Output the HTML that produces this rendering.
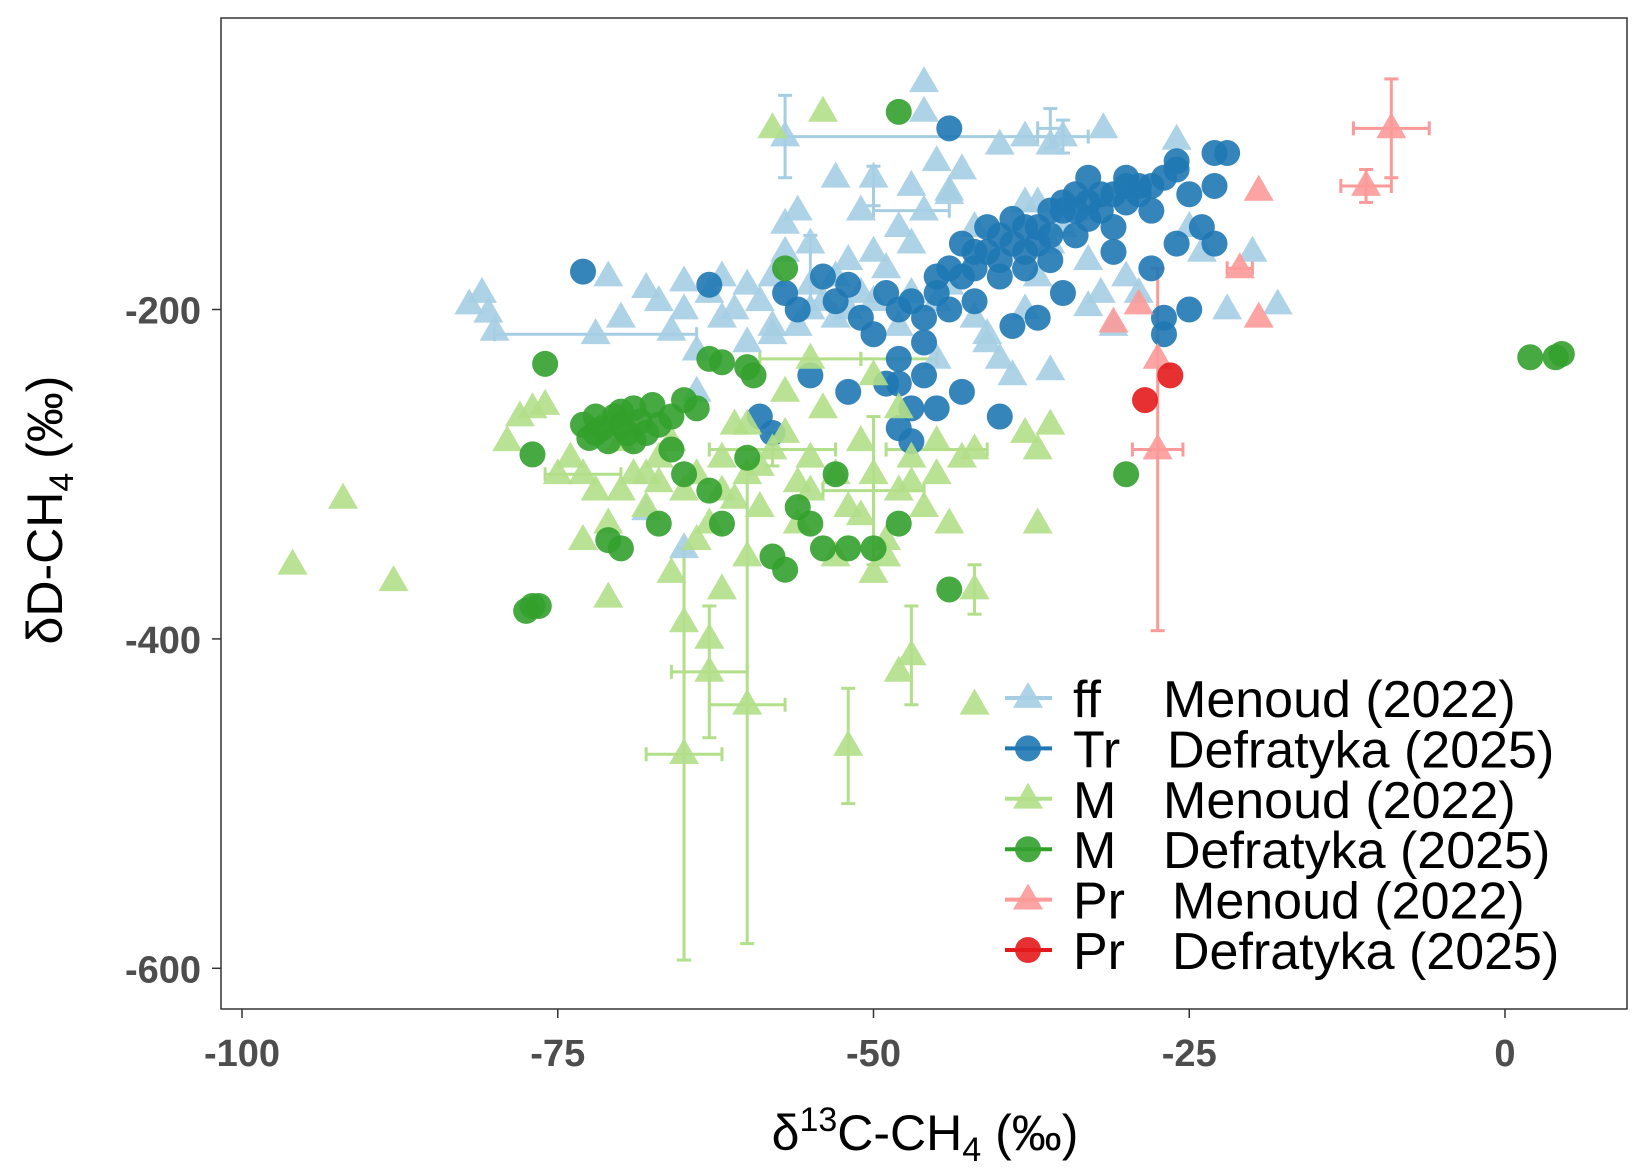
<!DOCTYPE html>
<html><head><meta charset="utf-8"><style>
html,body{margin:0;padding:0;background:#fff;}
svg{display:block;font-family:"Liberation Sans",Arial,sans-serif;}
</style></head><body>
<svg id="chart" width="1637" height="1175" viewBox="0 0 1637 1175">
<rect x="0" y="0" width="1637" height="1175" fill="#fff"/>
<g id="errs"></g>
<g id="marks"></g>
<rect x="221" y="18" width="1406" height="991" fill="none" stroke="#333" stroke-width="1.5"/>
<g id="axes"></g>
<text x="925" y="1150" text-anchor="middle" font-size="50" fill="#000">δ<tspan font-size="34" dy="-19">13</tspan><tspan dy="19">C-CH</tspan><tspan font-size="34" dy="11">4</tspan><tspan dy="-11"> (‰)</tspan></text>
<text transform="translate(62,510) rotate(-90)" text-anchor="middle" font-size="50" fill="#000">δD-CH<tspan font-size="34" dy="11">4</tspan><tspan dy="-11"> (‰)</tspan></text>
<g id="legend"></g>
</svg>
<script>
const xTicks=[-100,-75,-50,-25,0];
const yTicks=[-200,-400,-600];
const ffX=[-82,-81,-80.5,-80,-72,-71,-68,-66,-65,-65,-64,-63,-62,-61,-60,-59,-58,-58,-57,-57,-56,-57,-55,-54,-53,-52,-51,-50,-49,-48,-47,-46,-46,-46,-45,-44,-43,-47,-50,-51,-53,-55,-52,-48,-45,-42,-41,-40,-39,-38,-37,-36,-35,-34,-33,-32,-31,-30,-36,-35,-38,-40,-44,-42,-38,-31.8,-26,-25,-24,-22,-20,-18,-36,-33,-55,-60,-64,-68,-65,-37,-70,-67,-58,-45,-41,-29,-62,-56,-53,-50,-47,-44];
const ffY=[-197,-190,-202,-213,-215,-180,-187,-213,-183,-200,-225,-190,-180,-200,-185,-195,-180,-210,-165,-148,-140,-95,-185,-195,-180,-170,-190,-165,-175,-150,-160,-140,-62,-80,-110,-128,-115,-125,-120,-140,-120,-160,-200,-210,-195,-205,-220,-230,-240,-200,-180,-160,-150,-140,-170,-190,-210,-180,-100,-95,-95,-100,-130,-150,-135,-90,-97,-150,-165,-200,-165,-197,-237,-198,-200,-220,-250,-322,-345,-135,-205,-195,-215,-230,-215,-190,-205,-210,-205,-195,-190,-185];
const trX=[-73,-63,-57,-56,-55,-54,-53,-52,-51,-50,-49,-48,-47,-46,-45,-44,-43,-42,-41,-40,-40,-39,-38,-37,-36,-35,-34,-33,-32,-31,-30,-29,-28,-27,-26,-25,-24,-23,-22,-23,-23,-26,-28,-31,-34,-36,-38,-42,-44,-46,-48,-49,-47,-48,-47,-45,-43,-40,-59,-58,-25,-27,-27,-37,-35,-39,-44,-48,-46,-52,-33,-30,-26,-41,-39,-37,-35,-33,-31,-29,-43,-45,-38,-36,-32,-34,-30,-28,-42,-40];
const trY=[-177,-185,-190,-200,-240,-180,-195,-185,-205,-215,-190,-200,-195,-205,-180,-175,-160,-165,-150,-155,-180,-145,-150,-160,-140,-135,-130,-145,-140,-150,-135,-130,-140,-120,-115,-130,-150,-105,-105,-125,-160,-160,-175,-165,-155,-170,-175,-195,-200,-220,-230,-245,-260,-272,-280,-260,-250,-265,-265,-275,-200,-205,-215,-205,-190,-210,-90,-245,-240,-250,-120,-125,-110,-165,-160,-150,-140,-135,-130,-125,-180,-190,-165,-155,-130,-140,-120,-125,-175,-170];
const mmX=[-96,-92,-88,-79,-78,-77,-76,-74,-73,-72,-71,-70,-69,-68,-67,-66,-65,-64,-63,-62,-61,-60,-59,-58,-57,-56,-55,-54,-53,-52,-51,-50,-49,-48,-47,-46,-45,-44,-43,-42,-37,-38,-36,-37,-65,-63,-65,-63,-60,-52,-48,-47,-42,-42,-54,-58,-71,-75,-62,-60,-55,-50,-48,-73,-66,-50,-49,-57,-60,-70,-64,-56,-53,-67,-61,-59,-55,-51,-47,-45,-68,-62];
const mmY=[-355,-315,-365,-280,-265,-260,-258,-290,-300,-310,-330,-280,-300,-320,-290,-280,-310,-300,-330,-290,-270,-300,-320,-285,-275,-305,-290,-260,-300,-320,-280,-300,-340,-310,-290,-320,-300,-330,-290,-285,-285,-275,-270,-330,-390,-400,-470,-420,-440,-465,-420,-410,-370,-440,-80,-90,-375,-300,-370,-350,-230,-240,-260,-340,-360,-360,-350,-250,-270,-310,-340,-330,-350,-305,-315,-295,-310,-325,-305,-280,-300,-310];
const mdX=[-77.5,-77,-76.5,-77,-76,-73,-72,-71,-70.5,-70,-69,-68,-67,-66,-65,-64,-63,-62,-60,-59.5,-57,-48,-30,2,4,4.5,-44,-70,-71,-58,-57,-62,-63,-60,-55,-54,-52,-50,-48,-65,-67,-53,-56,-66,-72,-69,-71.5,-70,-68.5,-67.5,-69.5,-72.5];
const mdY=[-383,-380,-380,-288,-233,-270,-275,-280,-265,-270,-260,-275,-270,-265,-255,-260,-230,-232,-235,-240,-175,-80,-300,-229,-229,-227,-370,-345,-340,-350,-358,-330,-310,-290,-330,-345,-345,-345,-330,-300,-330,-300,-320,-285,-265,-280,-272,-262,-268,-258,-275,-278];
const prX=[-9,-11,-19.5,-21,-19.5,-31,-29,-27.5,-27.5];
const prY=[-90,-125,-128,-175,-205,-208,-197,-230,-285];
const pdX=[-28.5,-26.5];
const pdY=[-255,-240];
// error bars: x, y, x-error, y-error
const ffEX=[-57,-46,-72,-35,-36,-50,-47,-55];
const ffEY=[-95,-95,-215,-95,-90,-125,-140,-175];
const ffEx=[0,11,8,2,1,0,3,0];
const ffEy=[25,0,0,10,12,12,0,20];
const mmEX=[-65,-63,-60,-52,-47,-42,-73,-58,-50,-55,-48,-45];
const mmEY=[-470,-420,-440,-465,-410,-370,-300,-285,-310,-230,-230,-285];
const mmEx=[3,3,3,0,0,0,3,5,4,4,3,4];
const mmEy=[125,40,145,35,30,15,0,10,45,0,0,0];
const prEX=[-9,-11,-27.5,-21];
const prEY=[-90,-125,-285,-175];
const prEx=[3,2,2,1];
const prEy=[30,10,110,0];

const NS="http://www.w3.org/2000/svg";
const X0=221,X1=1627,Y0=18,Y1=1009;
function sx(v){return 1505+12.63*v;}
function sy(v){return 309.5-(v+200)*1.647;}
function mk(tag,attrs,parent){const e=document.createElementNS(NS,tag);for(const k in attrs)e.setAttribute(k,attrs[k]);parent.appendChild(e);return e;}

const axes=document.getElementById('axes');
xTicks.forEach(t=>{
  const l=mk('line',{x1:sx(t),x2:sx(t),y1:Y1,y2:Y1+9,stroke:'#333','stroke-width':1.5},axes);
  
  
  const tx=mk('text',{x:sx(t),y:Y1+57,'text-anchor':'middle','font-size':38,'font-weight':'bold',fill:'#4d4d4d'},axes);
  tx.textContent=String(t);
  
  
});
yTicks.forEach(t=>{
  const l=mk('line',{x1:X0-9,x2:X0,y1:sy(t),y2:sy(t),stroke:'#333','stroke-width':1.5},axes);
  
  
  const tx=mk('text',{x:X0-20,y:sy(t)+14,'text-anchor':'end','font-size':38,'font-weight':'bold',fill:'#4d4d4d'},axes);
  tx.textContent=String(t);
  
  
});

const errs=document.getElementById('errs');
function drawErr(X,Y,EX,EY,color,name){
  for(let i=0;i<X.length;i++){
    const cx=sx(X[i]),cy=sy(Y[i]);
    const g=mk('g',{stroke:color,'stroke-width':3,fill:'none'},errs);
    
    
    if(EY[i]>0){const a=sy(Y[i]+EY[i]),b=sy(Y[i]-EY[i]);
      mk('line',{x1:cx,x2:cx,y1:a,y2:b},g);mk('line',{x1:cx-7,x2:cx+7,y1:a,y2:a},g);mk('line',{x1:cx-7,x2:cx+7,y1:b,y2:b},g);}
    if(EX[i]>0){const a=sx(X[i]-EX[i]),b=sx(X[i]+EX[i]);
      mk('line',{x1:a,x2:b,y1:cy,y2:cy},g);mk('line',{x1:a,x2:a,y1:cy-7,y2:cy+7},g);mk('line',{x1:b,x2:b,y1:cy-7,y2:cy+7},g);}
  }
}
drawErr(ffEX,ffEY,ffEx,ffEy,'#a6cee3','ff-error-bar');
drawErr(mmEX,mmEY,mmEx,mmEy,'#b2df8a','m-menoud-error-bar');
drawErr(prEX,prEY,prEx,prEy,'#fb9a99','pr-menoud-error-bar');

const marks=document.getElementById('marks');
function tri(cx,cy,s){const h=s*0.866;return `${cx},${cy-h*0.62} ${cx-s/2},${cy+h*0.38} ${cx+s/2},${cy+h*0.38}`;}
function drawPts(X,Y,color,shape,name){
  for(let i=0;i<X.length;i++){
    const cx=sx(X[i]),cy=sy(Y[i]);
    let e;
    if(shape==='tri') e=mk('polygon',{points:tri(cx,cy,30),fill:color,'fill-opacity':0.9},marks);
    else e=mk('circle',{cx:cx,cy:cy,r:13,fill:color,'fill-opacity':0.9},marks);
    
    
  }
}
drawPts(ffX,ffY,'#a6cee3','tri','ff-menoud-point');
drawPts(trX,trY,'#1f78b4','circ','tr-defratyka-point');
drawPts(mmX,mmY,'#b2df8a','tri','m-menoud-point');
drawPts(mdX,mdY,'#33a02c','circ','m-defratyka-point');
drawPts(prX,prY,'#fb9a99','tri','pr-menoud-point');
drawPts(pdX,pdY,'#e31a1c','circ','pr-defratyka-point');

const legend=document.getElementById('legend');
const legA=['ff','Tr','M','M','Pr','Pr'];
const legB=['Menoud (2022)','Defratyka (2025)','Menoud (2022)','Defratyka (2025)','Menoud (2022)','Defratyka (2025)'];
const legC=['#a6cee3','#1f78b4','#b2df8a','#33a02c','#fb9a99','#e31a1c'];
const legS=['tri','circ','tri','circ','tri','circ'];
for(let i=0;i<6;i++){
  const y=698+i*50.4;
  const g=mk('g',{},legend);
  
  
  mk('line',{x1:1005,x2:1052,y1:y,y2:y,stroke:legC[i],'stroke-width':4},g);
  if(legS[i]==='tri') mk('polygon',{points:tri(1028,y,30),fill:legC[i],'fill-opacity':0.9},g);
  else mk('circle',{cx:1028,cy:y,r:13,fill:legC[i],'fill-opacity':0.9},g);
  const t=mk('text',{x:1073,y:y+19,'font-size':52,fill:'#000'},g);
  t.textContent=legA[i];
  const t2=mk('text',{x:(legA[i]==='Pr'?1172:(legA[i]==='Tr'?1167:1163)),y:y+19,'font-size':52,fill:'#000'},g);
  t2.textContent=legB[i];
}
</script>
</body></html>
